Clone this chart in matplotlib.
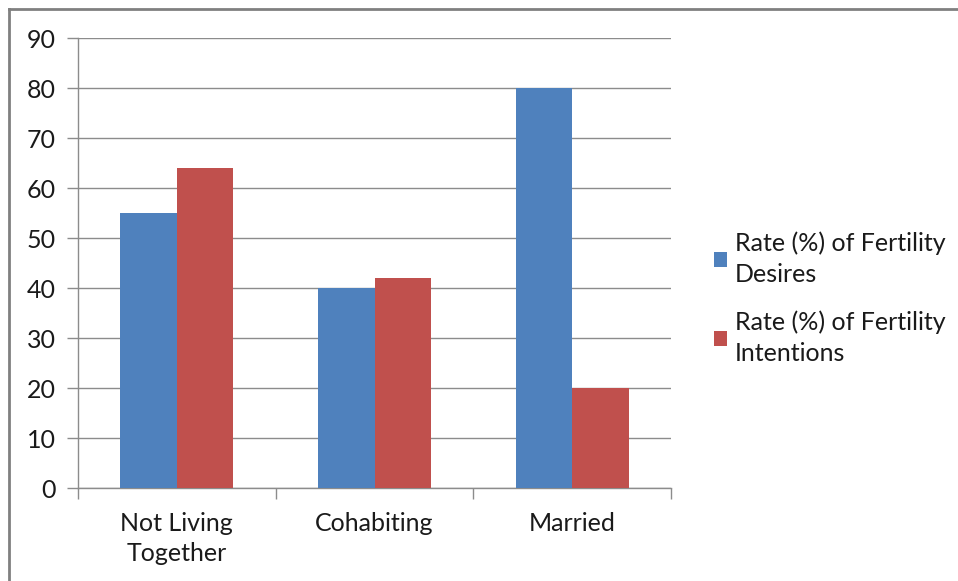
import matplotlib
matplotlib.use("Agg")
import matplotlib.pyplot as plt
from matplotlib.lines import Line2D
from matplotlib.patches import Patch
import numpy as np

categories = ["Not Living\nTogether", "Cohabiting", "Married"]
desires = [55, 40, 80]
intentions = [64, 42, 20]
series_labels = ["Rate (%) of Fertility\nDesires", "Rate (%) of Fertility\nIntentions"]
colors = ["#4F81BD", "#C0504D"]
y_ticks = list(range(0, 100, 10))

plt.rcParams["font.family"] = ["Lato", "DejaVu Sans"]
FS = 18

W, H = 958, 581
fig = plt.figure(figsize=(W / 100, H / 100), dpi=100)
ax = fig.add_axes([78 / W, 1 - 488 / H, (671 - 78) / W, (488 - 38) / H])

x = np.arange(len(categories))
bw = 1 / 3.5
ax.bar(x - bw / 2, desires, width=bw, color=colors[0], zorder=3)
ax.bar(x + bw / 2, intentions, width=bw, color=colors[1], zorder=3)

ax.set_xlim(-0.5, len(categories) - 0.5)
ax.set_ylim(0, 90)
ax.set_yticks(y_ticks)
ax.yaxis.grid(True, color="#8c8c8c", linewidth=1.0, zorder=0)
ax.set_axisbelow(True)

ax.set_xticks(x)
ax.set_xticklabels(categories, fontsize=FS, color="#1a1a1a", linespacing=1.4)
ax.tick_params(axis="x", length=0, pad=17)
ax.set_xticks(np.arange(-0.5, len(categories), 1), minor=True)
ax.tick_params(axis="x", which="minor", length=8, color="#8c8c8c", width=1.0)
ax.tick_params(axis="y", length=8, color="#8c8c8c", width=1.0, labelsize=FS,
               labelcolor="#1a1a1a", pad=8)

for s in ["top", "right"]:
    ax.spines[s].set_visible(False)
for s in ["left", "bottom"]:
    ax.spines[s].set_color("#8c8c8c")
    ax.spines[s].set_linewidth(1.0)

handles = [Patch(facecolor=c, edgecolor="none") for c in colors]
leg = fig.legend(handles, series_labels, loc="center left",
                 bbox_to_anchor=(701 / W, 1 - 298 / H), frameon=False,
                 fontsize=FS, handlelength=0.55, handleheight=0.55,
                 handletextpad=0.3, labelspacing=1.0, borderpad=0)
for t in leg.get_texts():
    t.set_color("#1a1a1a")
    t.set_linespacing(1.4)

# outer chart frame
fig.add_artist(Line2D([9 / W, 1], [1 - 9 / H, 1 - 9 / H], color="#808080",
                      linewidth=2.0, transform=fig.transFigure))
fig.add_artist(Line2D([9 / W, 9 / W], [0, 1 - 9 / H], color="#808080",
                      linewidth=2.0, transform=fig.transFigure))

fig.savefig("out.png", dpi=100)
